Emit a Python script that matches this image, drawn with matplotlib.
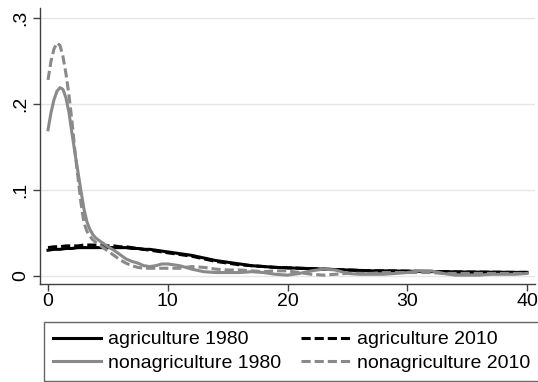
import matplotlib
matplotlib.use("Agg")
import matplotlib.pyplot as plt

plt.rcParams['font.family'] = ['Liberation Sans', 'DejaVu Sans']

x = [0, 0.25, 0.5, 0.75, 1, 1.25, 1.5, 1.75, 2, 2.25, 2.5, 2.75, 3, 3.25, 3.5, 3.75, 4,
     4.5, 5, 5.5, 6, 6.5, 7, 7.5, 8, 8.5, 9, 9.5, 10,
     11, 12, 13, 14, 15, 16, 17, 18, 19, 20, 21, 22, 23, 24, 25, 26, 27, 28, 29, 30,
     31, 32, 33, 34, 35, 36, 37, 38, 39, 40]

ag1980 = [0.030, 0.0305, 0.031, 0.031, 0.031, 0.0315, 0.032, 0.032, 0.032, 0.0325, 0.033, 0.033,
          0.033, 0.033, 0.033, 0.033, 0.033,
          0.033, 0.033, 0.033, 0.033, 0.033, 0.032, 0.032, 0.031, 0.031, 0.030, 0.029, 0.028,
          0.026, 0.024, 0.021, 0.018, 0.016, 0.014, 0.012, 0.011, 0.010, 0.0095,
          0.009, 0.0085, 0.008, 0.0075, 0.007, 0.0065, 0.006, 0.006, 0.0058, 0.0056,
          0.0054, 0.0052, 0.005, 0.0048, 0.0046, 0.0045, 0.0044, 0.0043, 0.0042, 0.0042]

ag2010 = [0.033, 0.0335, 0.034, 0.034, 0.034, 0.0345, 0.035, 0.035, 0.035, 0.035, 0.035, 0.0355,
          0.036, 0.036, 0.036, 0.036, 0.036,
          0.036, 0.035, 0.035, 0.034, 0.034, 0.033, 0.032, 0.031, 0.030, 0.029, 0.028, 0.027,
          0.025, 0.023, 0.020, 0.017, 0.015, 0.013, 0.012, 0.011, 0.010, 0.0095,
          0.009, 0.0085, 0.008, 0.0075, 0.007, 0.0065, 0.006, 0.006, 0.0058, 0.0056,
          0.0054, 0.0052, 0.005, 0.0048, 0.0046, 0.0045, 0.0044, 0.0043, 0.0042, 0.0042]

nonag1980 = [0.170, 0.190, 0.205, 0.215, 0.219, 0.217, 0.207, 0.190, 0.166, 0.143, 0.121, 0.099,
             0.078, 0.063, 0.054, 0.048, 0.044,
             0.039, 0.034, 0.030, 0.025, 0.020, 0.017, 0.015, 0.012, 0.011, 0.012, 0.014, 0.014,
             0.012, 0.008, 0.005, 0.004, 0.004, 0.004, 0.005, 0.004, 0.002, 0.001,
             0.003, 0.006, 0.008, 0.007, 0.003, 0.002, 0.002, 0.002, 0.003, 0.004,
             0.006, 0.006, 0.003, 0.001, 0.001, 0.001, 0.002, 0.002, 0.002, 0.003]

nonag2010 = [0.228, 0.250, 0.264, 0.271, 0.268, 0.255, 0.235, 0.210, 0.180, 0.145, 0.115, 0.085,
             0.062, 0.052, 0.046, 0.042, 0.039,
             0.034, 0.029, 0.024, 0.019, 0.015, 0.012, 0.010, 0.009, 0.009, 0.009, 0.009, 0.009,
             0.009, 0.011, 0.010, 0.008, 0.007, 0.007, 0.006, 0.005, 0.006, 0.006,
             0.004, 0.002, 0.001, 0.002, 0.003, 0.003, 0.003, 0.004, 0.004, 0.004,
             0.004, 0.004, 0.003, 0.003, 0.003, 0.003, 0.003, 0.003, 0.003, 0.003]

labels = ["agriculture 1980", "agriculture 2010", "nonagriculture 1980", "nonagriculture 2010"]
xticks = [0, 10, 20, 30, 40]
yticks = [0, 0.1, 0.2, 0.3]
ytick_labels = ["0", ".1", ".2", ".3"]

gray = "#8a8a8a"
fs = 14
fig = plt.figure(figsize=(5.38, 3.82), dpi=100)
ax = fig.add_axes([40/538, 98/382, 495/538, 276/382])

dash = (3.0, 1.3)
l1, = ax.plot(x, ag1980, color="black", lw=2.2)
l2, = ax.plot(x, ag2010, color="black", lw=2.2, ls=(0, dash))
l3, = ax.plot(x, nonag1980, color=gray, lw=2.2)
l4, = ax.plot(x, nonag2010, color=gray, lw=2.2, ls=(0, dash))

ax.set_xlim(-0.67, 40.67)
ax.set_ylim(-0.0093, 0.3116)
ax.set_xticks(xticks)
ax.set_yticks(yticks)
ax.set_yticklabels(ytick_labels, rotation=90, va="center")
ax.grid(axis="y", color="#e6e6e6", lw=1)
ax.set_axisbelow(True)
for s in ["top", "right"]:
    ax.spines[s].set_visible(False)
for s in ["left", "bottom"]:
    ax.spines[s].set_color("#404040")
    ax.spines[s].set_linewidth(1)
ax.tick_params(axis="both", length=5, width=1, color="#404040", labelsize=fs)
ax.tick_params(axis="x", pad=1.5)
ax.tick_params(axis="y", pad=3)

# row-major order: matplotlib fills columns first
handles = [l1, l3, l2, l4]
labs = [labels[0], labels[2], labels[1], labels[3]]
leg = fig.legend(handles, labs, ncol=2, loc="upper left",
                 bbox_to_anchor=(44/538, 1 - 322/382),
                 fontsize=fs, frameon=True, fancybox=False, edgecolor="#404040",
                 handlelength=2.5, handletextpad=0.36, labelspacing=0.3,
                 borderpad=0.45, columnspacing=1.0, borderaxespad=0)
leg.get_frame().set_linewidth(1)

fig.savefig("out.png", dpi=100)
